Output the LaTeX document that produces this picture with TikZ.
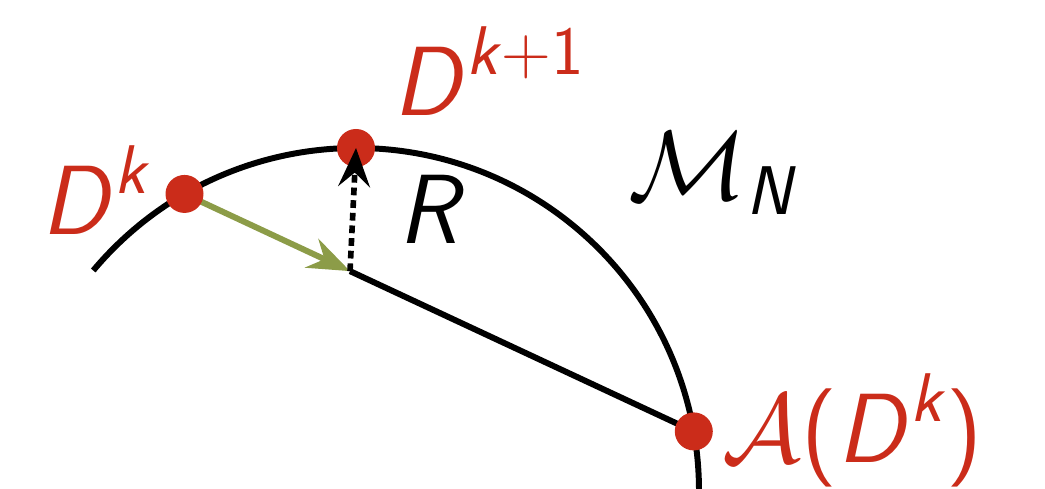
\RequirePackage{fix-cm}
\documentclass[tikz,border=0pt]{standalone}
\usepackage{amsmath}
\usepackage{amssymb}
\usepackage{fontspec}
\usepackage{tikz}
\usetikzlibrary{arrows.meta,positioning,calc}
\definecolor{ptred}{HTML}{CB2C1A}
\definecolor{stepgreen}{HTML}{8C9C48}
\newcommand{\sv}[1]{\textsf{\textit{#1}}}

\begin{document}
\begin{tikzpicture}[
  dot/.style={circle, fill=ptred, inner sep=0pt, minimum size=0.38cm},
  curve/.style={line width=1.7pt, black},
  lbl/.style={inner sep=0pt, font=\fontsize{28}{32}\selectfont},
  grad/.style={-{Stealth[length=12pt, width=9pt, inset=4pt]}, line width=1.7pt, stepgreen},
  retr/.style={-{Stealth[length=11pt, width=9pt, inset=4pt]}, line width=1.6pt, black, dash pattern=on 2.2pt off 1.4pt}
]
  \useasboundingbox (0,0) rectangle (10.45,4.89);

  \coordinate (c) at (3.56,-0.02);
  \coordinate (pk) at ($(c)+(120:3.43)$);
  \coordinate (pkk) at ($(c)+(90:3.43)$);
  \coordinate (pa) at ($(c)+(10:3.43)$);
  \coordinate (foot) at ($(pk)!0.325!(pa)$);

  % manifold
  \draw[curve] ($(c)+(140:3.43)$) arc[start angle=140, end angle=-3, radius=3.43];

  \draw[curve] (foot) -- (pa);
  \draw[grad] (pk) -- (foot);

  \node[dot] (dk) at (pk) {};
  \node[dot] (dkk) at (pkk) {};
  \node[dot] (adk) at (pa) {};

  \draw[retr] (foot) -- (dkk.center);

  \node[lbl, text=ptred, anchor=base east] (ldk) at (1.52,2.54) {$\sv{D}^{\sv{k}}$};
  \node[lbl, text=ptred, anchor=base west] (ldkk) at (3.93,3.73) {$\sv{D}^{\sv{k}+\textsf{1}}$};
  \node[lbl, anchor=base] (lr) at (4.32,2.45) {$\sv{R}$};
  \node[lbl, anchor=base west] (lm) at (6.28,2.89) {$\mathcal{M}_{\sv{N}}$};
  \node[lbl, text=ptred, anchor=base west] (ladk) at (7.22,0.26) {$\mathcal{A}\textsf{(}\sv{D}^{\sv{k}}\textsf{)}$};
\end{tikzpicture}
\end{document}
